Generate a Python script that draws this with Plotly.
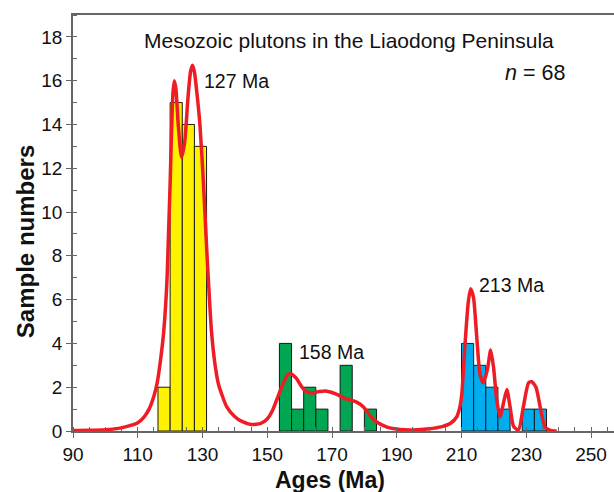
import plotly.graph_objects as go

# ---- data ----
bin_width = 3.75
yellow_left = [116.25, 120.0, 123.75, 127.5]
yellow_counts = [2, 15, 14, 13]
green_left = [153.75, 157.5, 161.25, 165.0, 172.5, 180.0]
green_counts = [4, 1, 2, 1, 3, 1]
blue_left = [210.0, 213.75, 217.5, 221.25, 228.75, 232.5]
blue_counts = [4, 3, 2, 1, 1, 1]

kde_age = [90, 95, 100, 104, 107, 110, 112, 113.5, 115, 116, 117, 118, 119, 119.5, 120, 120.5,
           120.9, 121.3, 121.8, 122.5, 123.5, 124.5, 125.5, 126.3, 126.9, 127.5, 128.3, 129.2, 130.3,
           131.3, 132.8, 134, 135, 137.5, 140, 142, 145, 148, 150, 151.5, 153, 155, 156.5, 157.5,
           159, 160.5, 162, 164, 166, 168, 170, 172, 174, 176, 177.6, 179.7, 181.7, 183.8, 187,
           191, 195, 200, 204, 206.5, 208.5, 209.5, 210.1, 211.1, 212.1, 212.8, 213.7, 214.7,
           215.7, 216.7, 218, 219, 219.9, 220.9, 221.9, 223, 224, 225, 226.1, 227.6, 229.1, 230.7,
           231.7, 233, 234.3, 235.8, 237.5, 239.4]
kde_value = [0.02, 0.03, 0.06, 0.12, 0.22, 0.38, 0.65, 1.0, 1.6, 2.2, 3.2, 4.5, 6.8, 9.0, 11.3, 14.0,
             15.5, 16.0, 15.6, 14.0, 12.5, 13.2, 15.2, 16.4, 16.7, 16.4, 15.4, 14.0, 11.3,
             8.3, 4.5, 2.9, 2.1, 1.1, 0.65, 0.45, 0.3, 0.35, 0.55, 0.9, 1.45, 2.2, 2.6, 2.6,
             2.4, 2.05, 1.8, 1.74, 1.8, 1.83, 1.76, 1.64, 1.48, 1.4, 1.32, 1.1, 0.72, 0.41, 0.18,
             0.07, 0.05, 0.1, 0.2, 0.34, 0.64, 1.1, 1.7, 4.0, 5.9, 6.5, 6.1, 4.3,
             2.6, 2.2, 2.8, 3.7, 2.9, 1.4, 0.64, 1.3, 1.9, 1.1, 0.2, 0.05, 1.1, 2.2,
             2.25, 2.0, 1.1, 0.18, 0.03, 0.0]

x_ticks = [90, 110, 130, 150, 170, 190, 210, 230, 250]
y_ticks = [0, 2, 4, 6, 8, 10, 12, 14, 16, 18]

FONT = "Liberation Sans, Arial, sans-serif"

fig = go.Figure()
bar_line = dict(color="#1a1a1a", width=1)
for left, counts, col in [(yellow_left, yellow_counts, "#fff200"),
                          (green_left, green_counts, "#00a651"),
                          (blue_left, blue_counts, "#00aeef")]:
    fig.add_trace(go.Bar(x=left, y=counts, width=bin_width, offset=0,
                         marker=dict(color=col, line=bar_line), showlegend=False))

fig.add_trace(go.Scatter(x=kde_age, y=kde_value, mode="lines",
                         line=dict(color="#ee1c25", width=3.5, shape="spline", smoothing=0.6),
                         showlegend=False))

axis_col = "#666666"
fig.update_layout(
    width=614, height=492,
    margin=dict(l=73, r=0, t=15, b=61),
    paper_bgcolor="white", plot_bgcolor="white",
    barmode="overlay",
    font=dict(family=FONT, color="#111111"),
    xaxis=dict(range=[90, 257.1], tickvals=x_ticks, ticks="outside", ticklen=5,
               tickcolor=axis_col, showline=True, linecolor=axis_col, linewidth=1.5,
               mirror=True, showgrid=False, zeroline=False,
               tickfont=dict(size=19, family=FONT, color="#111111"),
               minor=dict(dtick=5, tick0=90, ticks="inside", ticklen=4, tickcolor=axis_col)),
    yaxis=dict(range=[0, 19], tickvals=y_ticks, ticks="outside", ticklen=5,
               tickcolor=axis_col, showline=True, linecolor=axis_col, linewidth=1.5,
               showgrid=False, zeroline=False,
               tickfont=dict(size=19, family=FONT, color="#111111"),
               minor=dict(dtick=1, tick0=0, ticks="inside", ticklen=4, tickcolor=axis_col)),
)

ann = [
    dict(text="Mesozoic plutons in the Liaodong Peninsula", x=175.4, y=17.85, xref="x", yref="y",
         xanchor="center", yanchor="middle", font=dict(size=21)),
    dict(text="127 Ma", x=129.75, y=16.0, xref="x", yref="y", xanchor="left", yanchor="middle",
         font=dict(size=19.5)),
    dict(text="158 Ma", x=159.1, y=3.62, xref="x", yref="y", xanchor="left", yanchor="middle",
         font=dict(size=19.5)),
    dict(text="213 Ma", x=214.7, y=6.68, xref="x", yref="y", xanchor="left", yanchor="middle",
         font=dict(size=19.5)),
    dict(text="<i>n</i> = 68", x=222.8, y=16.35, xref="x", yref="y", xanchor="left",
         yanchor="middle", font=dict(size=21.5)),
    dict(text="<b>Ages (Ma)</b>", x=169.3, y=-0.118, xref="x", yref="paper", xanchor="center",
         yanchor="middle", font=dict(size=23)),
    dict(text="<b>Sample numbers</b>", x=-0.0887, y=0.454, xref="paper", yref="paper",
         xanchor="center", yanchor="middle", textangle=-90, font=dict(size=24)),
]
for a in ann:
    a["showarrow"] = False
    a["font"]["family"] = FONT
    a["font"]["color"] = "#111111"
fig.update_layout(annotations=ann)

fig.write_html("out.html", config={"displayModeBar": False},
               post_script="document.body.style.margin='0';document.body.style.padding='0';")
